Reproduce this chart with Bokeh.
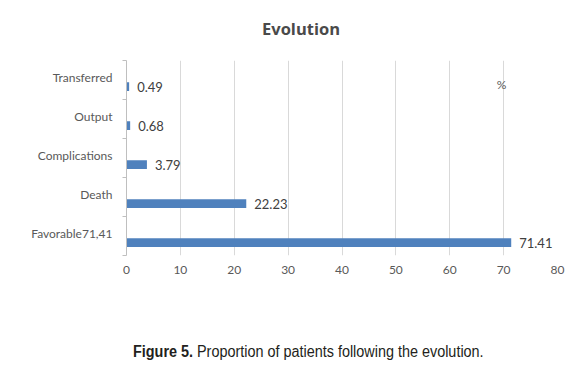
from bokeh.plotting import figure
from bokeh.models import Range1d, FixedTicker, Label, ColumnDataSource, Div
from bokeh.layouts import column
from bokeh.transform import dodge
from bokeh.embed import file_html
from bokeh.resources import INLINE

# ---- data ----
categories = ["Favorable71,41", "Death", "Complications", "Output", "Transferred"]
values = [71.41, 22.23, 3.79, 0.68, 0.49]
value_labels = ["71.41", "22.23", "3.79", "0.68", "0.49"]
x_ticks = [0, 10, 20, 30, 40, 50, 60, 70, 80]
title_text = "Evolution"
legend_text = "%"
caption_bold = "Figure 5."
caption_rest = "Proportion of patients following the evolution."

positions = [i + 0.5 for i in range(len(categories))]
label_positions = [pp + 0.07 for pp in positions]
boundaries = [i for i in range(len(categories) + 1)]

src = ColumnDataSource(dict(y=positions, v=values, lab=value_labels))

FONT = "Lato"
GREY = "#595959"

title = Div(
    text=title_text, width=160, height=50, margin=(0, 0, 0, 221),
    styles={"font-family": "Open Sans", "font-weight": "bold", "font-size": "16.5px",
            "color": "#4a4a4a", "line-height": "58px", "text-align": "center",
            "width": "160px"},
)

p = figure(width=571, height=250, output_backend="svg", toolbar_location=None,
           x_range=Range1d(0, 80), y_range=Range1d(0, len(categories)),
           min_border_left=126, min_border_right=14, min_border_top=10,
           min_border_bottom=45)
p.outline_line_color = None
p.background_fill_color = "white"
p.border_fill_color = "white"

p.hbar(y=dodge("y", -0.17), right="v", left=0, height=0.23, source=src,
       fill_color="#4F81BD", line_color=None)
p.text(x="v", y=dodge("y", -0.17), text="lab", source=src, x_offset=8,
       text_baseline="middle", text_align="left", text_font_size="13px",
       text_color="#404040", text_font={"value": FONT})

# x axis
p.xaxis.ticker = FixedTicker(ticks=x_ticks)
p.xaxis.axis_line_color = None
p.xaxis.major_tick_line_color = None
p.xaxis.minor_tick_line_color = None
p.xaxis.major_label_text_font = FONT
p.xaxis.major_label_text_font_size = "12px"
p.xaxis.major_label_text_color = GREY
p.xaxis.major_label_standoff = 4
p.xgrid.ticker = FixedTicker(ticks=x_ticks)
p.xgrid.grid_line_color = "#d9d9d9"
p.ygrid.grid_line_color = None

# y axis
p.yaxis.ticker = FixedTicker(ticks=label_positions, minor_ticks=boundaries)
p.yaxis.major_label_overrides = {pos: c for pos, c in zip(label_positions, categories)}
p.yaxis.axis_line_color = "#bfbfbf"
p.yaxis.major_tick_line_color = None
p.yaxis.major_tick_out = 0
p.yaxis.major_tick_in = 0
p.yaxis.minor_tick_line_color = "#bfbfbf"
p.yaxis.minor_tick_out = 4
p.yaxis.minor_tick_in = 0
p.yaxis.major_label_text_font = FONT
p.yaxis.major_label_text_font_size = "12px"
p.yaxis.major_label_text_color = GREY
p.yaxis.major_label_standoff = 10

# legend-like marker "%"
p.add_layout(Label(x=69.6, y=4.38, text=legend_text, text_align="center",
                   text_baseline="middle", text_font=FONT, text_font_size="12px",
                   text_color=GREY))

caption = Div(
    text=f"<b>{caption_bold}</b> {caption_rest}",
    width=440, height=30,
    margin=(42, 0, 0, 133),
    styles={"font-family": "Liberation Sans", "font-size": "16px",
            "color": "#231f20", "line-height": "20px", "white-space": "nowrap",
            "transform": "scaleX(0.9)", "transform-origin": "left center"},
)

layout = column(title, p, caption, spacing=0)
open("out.html", "w").write(file_html(layout, INLINE))
